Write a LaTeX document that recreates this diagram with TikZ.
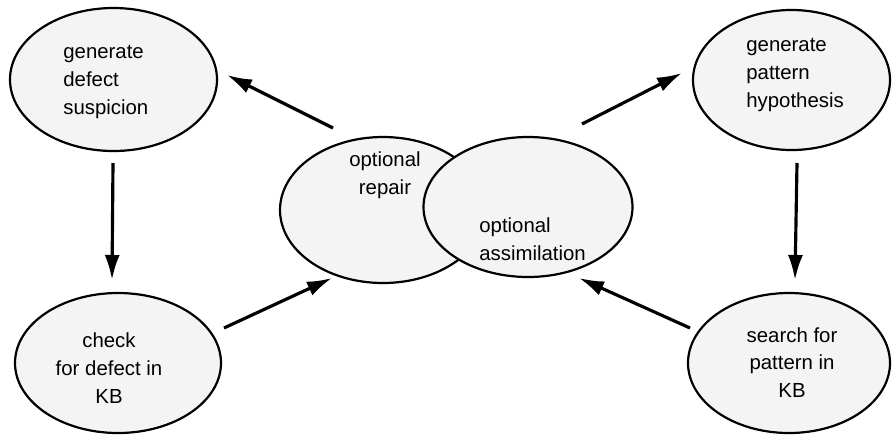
\documentclass[tikz,border=0pt]{standalone}
\usepackage{fontspec}
\setmainfont{Liberation Sans}
\usetikzlibrary{positioning, shapes.geometric, arrows.meta}
\definecolor{bubble}{HTML}{F4F4F4}
\tikzset{
    task/.style={ellipse, draw, line width=1.25pt, fill=bubble, inner sep=0pt},
    lbl/.style={font=\fontsize{11.6}{15.8}\selectfont, inner sep=0pt},
    flow/.style={line width=1.8pt, -{Latex[length=0.5cm, width=0.3cm]}}
}
\begin{document}
\begin{tikzpicture}
        \useasboundingbox (0,0) rectangle (17.84,-8.68);
        % the six bubbles
        \node[task, minimum width=4.14cm, minimum height=2.86cm] (gendef) at (2.27,-1.59) {};
        \node[task, minimum width=3.94cm, minimum height=2.80cm] (genpat) at (15.83,-1.60) {};
        \node[task, minimum width=4.12cm, minimum height=2.80cm] (chkdef) at (2.36,-7.26) {};
        \node[task, minimum width=4.04cm, minimum height=2.80cm] (srchpat) at (15.78,-7.26) {};
        \node[task, minimum width=4.12cm, minimum height=2.92cm] (repair) at (7.66,-4.20) {};
        \node[task, minimum width=4.18cm, minimum height=2.80cm] (assim) at (10.56,-4.14) {};
        % texts
        \node[lbl, align=left, anchor=west] (tgendef) at (1.26,-1.64) {generate\\defect\\suspicion};
        \node[lbl, align=left, anchor=west] (tgenpat) at (14.92,-1.50) {generate\\pattern\\hypothesis};
        \node[lbl, align=center] (tchkdef) at (2.18,-7.36) {check\\for defect in\\KB};
        \node[lbl, align=center] (tsrchpat) at (15.84,-7.25) {search for\\pattern in\\KB};
        \node[lbl, align=center] (trepair) at (7.70,-3.50) {optional\\repair};
        \node[lbl, align=left, anchor=west] (tassim) at (9.58,-4.78) {optional\\assimilation};
        % arrow ends
        \coordinate (P1) at (6.66,-2.56);
        \coordinate (Q1) at (4.54,-1.50);
        \coordinate (P2) at (2.26,-3.26);
        \coordinate (Q2) at (2.24,-5.60);
        \coordinate (P3) at (4.48,-6.56);
        \coordinate (Q3) at (6.64,-5.56);
        \coordinate (P4) at (11.64,-2.48);
        \coordinate (Q4) at (13.64,-1.46);
        \coordinate (P5) at (15.94,-3.26);
        \coordinate (Q5) at (15.90,-5.60);
        \coordinate (P6) at (13.80,-6.56);
        \coordinate (Q6) at (11.58,-5.56);
        \draw[flow] (P1) -- (Q1);
        \draw[flow] (P2) -- (Q2);
        \draw[flow] (P3) -- (Q3);
        \draw[flow] (P4) -- (Q4);
        \draw[flow] (P5) -- (Q5);
        \draw[flow] (P6) -- (Q6);
\end{tikzpicture}
\end{document}
